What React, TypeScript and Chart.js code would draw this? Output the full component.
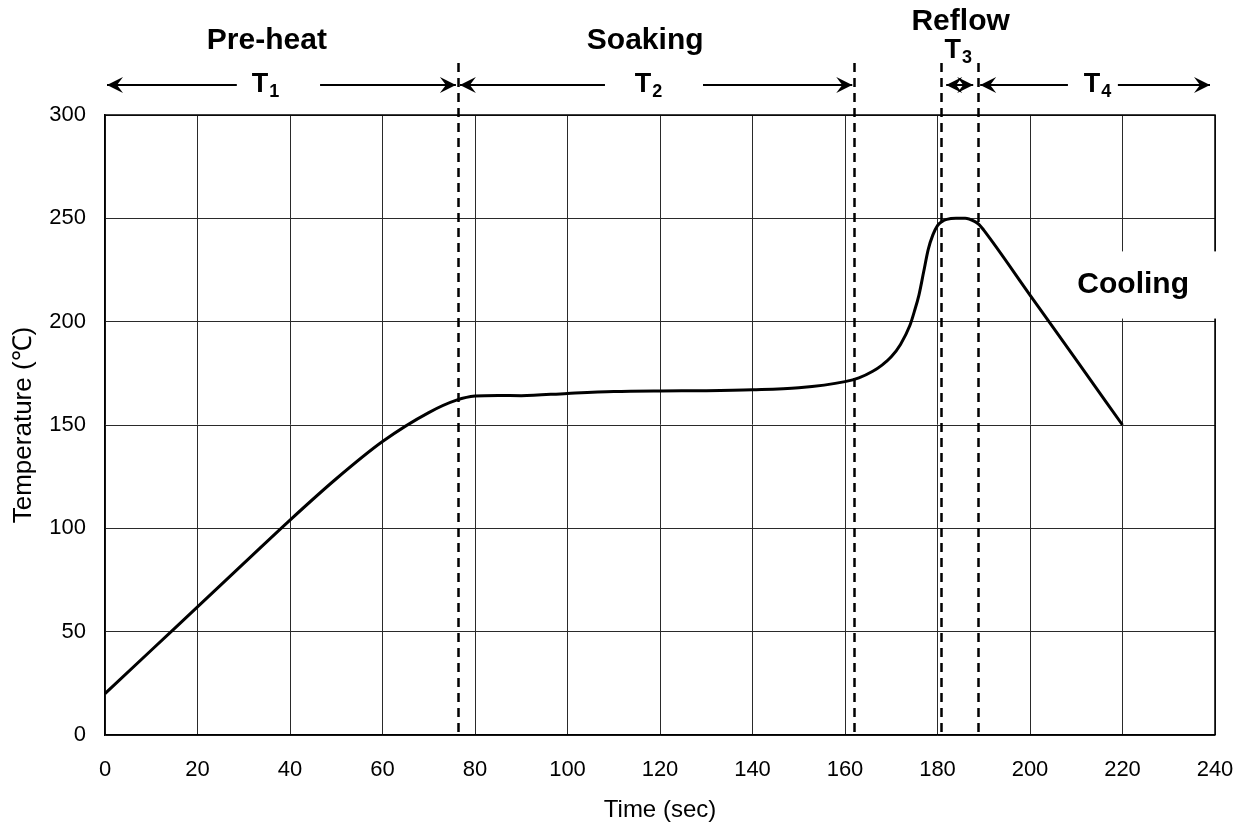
import { useEffect, useRef } from 'react';
import { Chart, registerables } from 'chart.js';

Chart.register(...registerables);

// ---- Data ----
const timeSec = [0, 10, 20, 30, 40, 50, 60, 70, 76, 80, 85, 90, 100, 110, 120, 130, 140, 150, 160, 163, 166, 168, 170, 172, 174, 175, 176, 177, 178, 179, 180, 181, 182, 184, 186, 188, 189, 190, 200, 210, 220];
const temperature = [20, 41, 62, 83, 104, 124, 142, 156, 162, 164, 164.3, 164.2, 165.3, 166.2, 166.5, 166.6, 167, 168, 171, 172.8, 176, 179, 183, 189, 198, 205, 213, 224, 235, 242, 246.5, 248.5, 249.5, 250, 250, 248.5, 247, 244.3, 212.9, 181.5, 150];

const xTickStep = 20;
const yTickStep = 50;

// phase boundaries (sec) drawn as dashed lines
const phaseBoundaries = [76.3, 162, 180.8, 188.8];
const phaseNames = ['Pre-heat', 'Soaking', 'Reflow', 'Cooling'];
const periodNames = ['1', '2', '3', '4'];
// arrow spans (sec)
const arrowStart = [0, 76.3, 180.8, 188.8];
const arrowEnd = [76.3, 162, 188.8, 240];

const FONT = "'Liberation Sans', Arial, Helvetica, sans-serif";

function arrowHead(ctx: CanvasRenderingContext2D, x: number, y: number, dir: number) {
  ctx.beginPath();
  ctx.moveTo(x, y);
  ctx.lineTo(x - dir * 16, y - 8);
  ctx.lineTo(x - dir * 10, y);
  ctx.lineTo(x - dir * 16, y + 8);
  ctx.closePath();
  ctx.fill();
}

function tLabel(ctx: CanvasRenderingContext2D, cx: number, cy: number, sub: string) {
  ctx.font = `bold 27px ${FONT}`;
  const wT = ctx.measureText('T').width;
  ctx.font = `bold 18px ${FONT}`;
  const wS = ctx.measureText(sub).width;
  const total = wT + wS;
  const x0 = cx - total / 2;
  ctx.textAlign = 'left';
  ctx.textBaseline = 'middle';
  ctx.font = `bold 27px ${FONT}`;
  ctx.fillText('T', x0, cy);
  ctx.font = `bold 18px ${FONT}`;
  ctx.fillText(sub, x0 + wT + 1, cy + 7);
}

const annotations = {
  id: 'reflowAnnotations',
  afterDraw(chart: any) {
    const ctx: CanvasRenderingContext2D = chart.ctx;
    const xs = chart.scales.x;
    const ys = chart.scales.y;
    const area = chart.chartArea;
    ctx.save();

    // frame (top and right)
    ctx.strokeStyle = '#000';
    ctx.lineWidth = 1.5;
    ctx.beginPath();
    ctx.moveTo(area.left, area.top);
    ctx.lineTo(area.right, area.top);
    ctx.lineTo(area.right, area.bottom);
    ctx.stroke();

    // Cooling label with white box
    const coolX = xs.getPixelForValue(222.3);
    const coolY = ys.getPixelForValue(218);
    const bx = xs.getPixelForValue(208);
    const by = ys.getPixelForValue(234);
    ctx.fillStyle = '#fff';
    ctx.fillRect(bx, by, area.right + 2 - bx, ys.getPixelForValue(201.5) - by);
    ctx.fillStyle = '#000';
    ctx.font = `bold 30px ${FONT}`;
    ctx.textAlign = 'center';
    ctx.textBaseline = 'middle';
    ctx.fillText(phaseNames[3], coolX, coolY);

    // dashed boundaries
    ctx.strokeStyle = '#000';
    ctx.lineWidth = 2.5;
    ctx.setLineDash([9, 6]);
    for (const b of phaseBoundaries) {
      const px = Math.round(xs.getPixelForValue(b)) + 0.5;
      ctx.beginPath();
      ctx.moveTo(px, area.top - 52);
      ctx.lineTo(px, area.bottom);
      ctx.stroke();
    }
    ctx.setLineDash([]);

    // phase titles
    ctx.fillStyle = '#000';
    ctx.font = `bold 30px ${FONT}`;
    ctx.textAlign = 'center';
    ctx.textBaseline = 'middle';
    ctx.fillText(phaseNames[0], xs.getPixelForValue(35), area.top - 74);
    ctx.fillText(phaseNames[1], xs.getPixelForValue(116.8), area.top - 74);
    ctx.fillText(phaseNames[2], xs.getPixelForValue(185), area.top - 93);

    // arrows
    const ay = area.top - 30;
    ctx.lineWidth = 2;
    ctx.strokeStyle = '#000';
    const gaps: [number, number][] = [[28.5, 46.5], [108.1, 129.3], [0, 0], [208.2, 219]];
    const labelT = [34.6, 117.4, 184.4, 214.5];
    for (let i = 0; i < 4; i++) {
      const x1 = xs.getPixelForValue(arrowStart[i]) + 2;
      const x2 = i === 3 ? xs.getPixelForValue(arrowEnd[i]) - 5 : xs.getPixelForValue(arrowEnd[i]) - 2;
      if (i === 2) {
        ctx.beginPath();
        ctx.moveTo(x1 + 3, ay);
        ctx.lineTo(x2 - 3, ay);
        ctx.stroke();
        arrowHead(ctx, x1 + 3, ay, -1);
        arrowHead(ctx, x2 - 3, ay, 1);
        tLabel(ctx, xs.getPixelForValue(labelT[i]), area.top - 64, periodNames[i]);
        continue;
      }
      const g1 = xs.getPixelForValue(gaps[i][0]);
      const g2 = xs.getPixelForValue(gaps[i][1]);
      ctx.beginPath();
      ctx.moveTo(x1, ay);
      ctx.lineTo(g1, ay);
      ctx.moveTo(g2, ay);
      ctx.lineTo(x2, ay);
      ctx.stroke();
      arrowHead(ctx, x1, ay, -1);
      arrowHead(ctx, x2, ay, 1);
      tLabel(ctx, xs.getPixelForValue(labelT[i]), ay, periodNames[i]);
    }
    ctx.restore();
  },
};

export default function App() {
  const ref = useRef<HTMLCanvasElement>(null);
  useEffect(() => {
    if (!ref.current) return;
    const chart = new Chart(ref.current, {
      type: 'line',
      data: {
        datasets: [
          {
            label: 'Temperature',
            data: timeSec.map((t, i) => ({ x: t, y: temperature[i] })),
            borderColor: '#000',
            borderWidth: 3,
            pointRadius: 0,
            cubicInterpolationMode: 'monotone',
            fill: false,
          },
        ],
      },
      options: {
        responsive: false,
        animation: false,
        devicePixelRatio: 1,
        layout: { padding: { top: 115, right: 25, left: 0, bottom: 0 } },
        plugins: { legend: { display: false }, tooltip: { enabled: false } },
        scales: {
          x: {
            type: 'linear',
            min: 0,
            max: 240,
            ticks: { stepSize: xTickStep, color: '#000', font: { family: FONT, size: 22 }, padding: 22, maxRotation: 0 },
            grid: { color: '#2a2a2a', lineWidth: 1, drawTicks: false },
            border: { color: '#000', width: 1.5 },
            title: { display: true, text: 'Time (sec)', color: '#000', font: { family: FONT, size: 24 }, padding: { top: 0, bottom: 0 } },
            afterFit: (s: any) => { s.height = 90; s.paddingRight = 0; s.paddingLeft = 0; },
          },
          y: {
            type: 'linear',
            min: 0,
            max: 300,
            ticks: { stepSize: yTickStep, color: '#000', font: { family: FONT, size: 22 }, padding: 19 },
            grid: { color: '#2a2a2a', lineWidth: 1, drawTicks: false },
            border: { color: '#000', width: 1.5 },
            title: { display: true, text: 'Temperature (℃)', color: '#000', font: { family: FONT, size: 26 }, padding: { top: 8, bottom: 0 } },
            afterFit: (s: any) => { s.width = 105; },
          },
        },
      } as any,
      plugins: [annotations],
    });
    return () => chart.destroy();
  }, []);
  return <canvas ref={ref} width={1240} height={825} style={{ position: 'absolute', left: 0, top: 0 }} />;
}
